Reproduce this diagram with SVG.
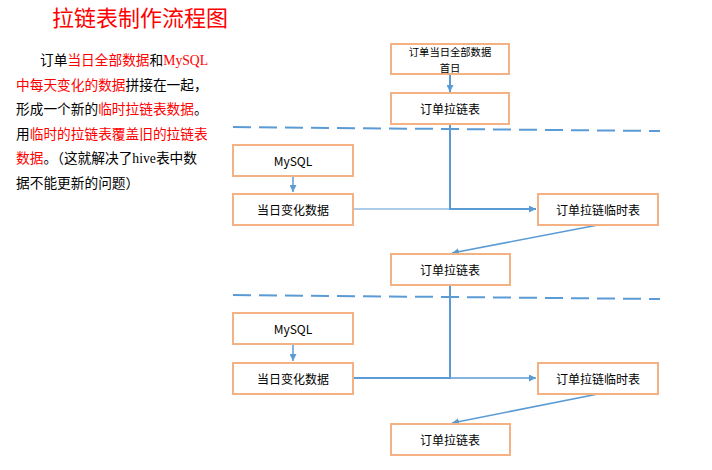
<svg xmlns="http://www.w3.org/2000/svg" width="712" height="470" viewBox="0 0 712 470">
<style>
.box{fill:#fff;stroke:#F4B183;stroke-width:2}
.lbl{font-family:"Microsoft YaHei","Noto Sans CJK SC","Liberation Sans",sans-serif;font-size:12px;fill:#000;text-anchor:middle;dominant-baseline:central}
.sm{font-size:10.3px}
.para{font-family:"Liberation Serif","Noto Sans CJK SC",serif;font-size:13.7px;fill:#000}
.r{fill:#FF0000}
.ln{fill:none;stroke:#5B9BD5}
.dash{fill:none;stroke:#5B9BD5;stroke-width:2;stroke-dasharray:18 8}
</style>
<defs>
<marker id="ah" viewBox="0 0 10 10" refX="10" refY="5" markerWidth="7" markerHeight="7" markerUnits="userSpaceOnUse" orient="auto">
<path d="M0,0 L10,5 L0,10 z" fill="#5B9BD5"/>
</marker>
</defs>
<rect width="712" height="470" fill="#fff"/>
<text x="52" y="26" font-family="Microsoft YaHei,Noto Sans CJK SC,sans-serif" font-size="22" fill="#FF0000">拉链表制作流程图</text>
<g class="para">
<text x="40" y="65">订单<tspan class="r">当日全部数据</tspan>和<tspan class="r">MySQL</tspan></text>
<text x="16" y="89.5"><tspan class="r">中每天变化的数据</tspan>拼接在一起，</text>
<text x="16" y="114">形成一个新的<tspan class="r">临时拉链表数据</tspan>。</text>
<text x="16" y="138.5">用<tspan class="r">临时的拉链表覆盖旧的拉链表</tspan></text>
<text x="16" y="163"><tspan class="r">数据</tspan>。（这就解决了hive表中数</text>
<text x="16" y="187.5">据不能更新的问题）</text>
</g>
<g id="connectors">
<path class="dash" d="M233,127 L660,131"/>
<path class="dash" d="M233,295 L660,299"/>
<path class="ln" stroke-width="2" d="M450,74 L450,92" marker-end="url(#ah)"/>
<path class="ln" stroke-width="2" d="M450,124 L450,209 L536,209" marker-end="url(#ah)"/>
<path class="ln" stroke-width="1.2" d="M353,209 L450,209"/>
<path class="ln" stroke-width="1.5" d="M293,176 L293,192" marker-end="url(#ah)"/>
<path class="ln" stroke-width="1.5" d="M598,225 L452,253" marker-end="url(#ah)"/>
<path class="ln" stroke-width="2" d="M450,286 L450,378 L353,378"/>
<path class="ln" stroke-width="1.5" d="M450,378 L536,378" marker-end="url(#ah)"/>
<path class="ln" stroke-width="1.5" d="M293,344 L293,361" marker-end="url(#ah)"/>
<path class="ln" stroke-width="1.5" d="M598,394 L452,423" marker-end="url(#ah)"/>
</g>
<g id="n1"><rect class="box" x="391" y="44" width="118" height="30"/><text class="lbl sm" x="450" y="51.5">订单当日全部数据<tspan x="450" dy="15">首日</tspan></text></g>
<g id="n2"><rect class="box" x="391" y="93" width="118" height="31"/><text class="lbl" x="450" y="108.5">订单拉链表</text></g>
<g id="n3"><rect class="box" x="233" y="145" width="120" height="31" stroke-width="1.5"/><text class="lbl" x="293" y="160.5">MySQL</text></g>
<g id="n4"><rect class="box" x="233" y="194" width="120" height="31" stroke-width="1.5"/><text class="lbl" x="293" y="209.5">当日变化数据</text></g>
<g id="n5"><rect class="box" x="538" y="194" width="120" height="31"/><text class="lbl" x="598" y="209.5">订单拉链临时表</text></g>
<g id="n6"><rect class="box" x="391" y="254" width="119" height="31"/><text class="lbl" x="450" y="269.5">订单拉链表</text></g>
<g id="n7"><rect class="box" x="233" y="313" width="120" height="31" stroke-width="1.2"/><text class="lbl" x="293" y="328.5">MySQL</text></g>
<g id="n8"><rect class="box" x="233" y="363" width="120" height="31" stroke-width="1.5"/><text class="lbl" x="293" y="378.5">当日变化数据</text></g>
<g id="n9"><rect class="box" x="538" y="363" width="120" height="31"/><text class="lbl" x="598" y="378.5">订单拉链临时表</text></g>
<g id="n10"><rect class="box" x="391" y="424" width="119" height="31"/><text class="lbl" x="450" y="439.5">订单拉链表</text></g>
</svg>
